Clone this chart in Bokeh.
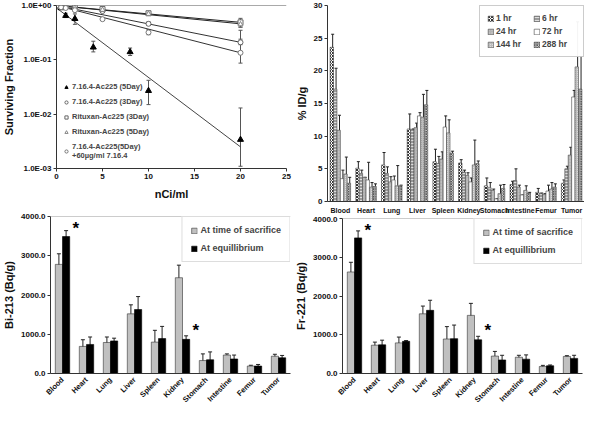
from math import pi
from bokeh.plotting import figure
from bokeh.layouts import column, row
from bokeh.models import (ColumnDataSource, FactorRange, Whisker, TeeHead, Legend, LegendItem,
                          FixedTicker, CustomJSTickFormatter, NumeralTickFormatter, Span)
from bokeh.transform import dodge
from bokeh.core.properties import value
from bokeh.embed import file_html
from bokeh.resources import INLINE

FONT = "Liberation Sans"

# ---------------- Panel A: survival ----------------
tri_x = [0, 0.5, 1, 2, 4, 8, 10, 20]
tri_y = [1.0, 0.9, 0.65, 0.57, 0.17, 0.14, 0.027, 0.0034]
tri_lo = [1.0, 0.85, 0.6, 0.45, 0.14, 0.12, 0.015, 0.0011]
tri_hi = [1.0, 0.95, 0.72, 0.70, 0.22, 0.165, 0.042, 0.013]

dose = [0, 0.5, 1, 2, 5, 10, 20]
rit3_y = [1.0, 0.98, 0.97, 0.93, 0.86, 0.72, 0.49]
rit3_lo = [1.0, 0.95, 0.94, 0.88, 0.80, 0.67, 0.40]
rit3_hi = [1.0, 1.0, 1.0, 0.98, 0.93, 0.78, 0.58]
rit5_y = [1.0, 0.97, 0.95, 0.91, 0.83, 0.70, 0.45]
rit5_lo = [1.0, 0.94, 0.92, 0.87, 0.79, 0.66, 0.40]
rit5_hi = [1.0, 1.0, 0.98, 0.95, 0.88, 0.74, 0.52]
c3_y = [1.0, 0.95, 0.93, 0.88, 0.79, 0.46, 0.21]
c3_lo = [1.0, 0.92, 0.9, 0.84, 0.75, 0.43, 0.19]
c3_hi = [1.0, 0.98, 0.96, 0.92, 0.83, 0.50, 0.24]
blk_y = [1.0, 0.93, 0.90, 0.82, 0.56, 0.32, 0.135]
blk_lo = [1.0, 0.90, 0.86, 0.78, 0.53, 0.29, 0.087]
blk_hi = [1.0, 0.96, 0.94, 0.86, 0.60, 0.36, 0.35]

fit_x = [0, 20]
tri_fit = [0.9, 0.0025]
rit3_fit = [1.0, 0.49]
rit5_fit = [1.0, 0.46]
c3_fit = [1.0, 0.21]
blk_fit = [1.0, 0.135]

ytick_vals = [0.001, 0.01, 0.1, 1.0]
xtick_vals = [0, 5, 10, 15, 20, 25]

# ---------------- Panel B: %ID/g ----------------
organs = ["Blood", "Heart", "Lung", "Liver", "Spleen", "Kidney", "Stomach", "Intestine", "Femur", "Tumor"]
times = ["1 hr", "6 hr", "24 hr", "72 hr", "144 hr", "288 hr"]
id_1h = [23.6, 5.1, 5.6, 11.1, 6.1, 5.9, 2.4, 2.6, 1.4, 2.8]
id_1h_hi = [25.6, 6.1, 7.5, 13.4, 8.0, 6.4, 3.6, 3.1, 2.0, 3.3]
id_6h = [17.2, 4.3, 4.3, 11.0, 5.8, 4.5, 2.1, 3.2, 1.2, 5.0]
id_6h_hi = [20.4, 4.8, 5.3, 11.1, 6.9, 4.8, 2.9, 5.0, 1.3, 5.4]
id_24h = [10.9, 3.7, 3.0, 11.3, 6.5, 4.0, 1.7, 2.2, 1.1, 7.1]
id_24h_hi = [13.2, 3.7, 3.8, 12.0, 7.6, 4.4, 1.9, 2.5, 1.2, 8.3]
id_72h = [3.5, 3.3, 3.3, 13.1, 11.4, 3.0, 0.4, 1.0, 1.6, 16.0]
id_72h_hi = [4.8, 6.0, 3.9, 13.6, 13.1, 3.6, 0.4, 1.0, 2.5, 17.0]
id_144h = [4.2, 2.2, 2.4, 12.9, 10.5, 5.6, 1.2, 1.7, 1.9, 20.6]
id_144h_hi = [6.8, 2.9, 5.5, 16.4, 12.5, 9.4, 2.5, 2.4, 2.9, 27.5]
id_288h = [2.8, 2.3, 2.4, 14.8, 7.4, 5.8, 2.0, 1.3, 2.2, 17.2]
id_288h_hi = [3.7, 2.7, 2.5, 17.0, 7.7, 6.2, 2.6, 1.4, 2.7, 22.2]

# ---------------- Panels C/D: Bi-213 / Fr-221 ----------------
bi_sac = [2780, 690, 790, 1520, 800, 2440, 330, 470, 190, 440]
bi_sac_lo = [2500, 520, 650, 1290, 500, 2120, 160, 440, 170, 390]
bi_sac_hi = [3050, 860, 930, 1750, 1100, 2760, 500, 500, 210, 490]
bi_eq = [3490, 740, 830, 1630, 890, 870, 350, 370, 190, 400]
bi_eq_lo = [3340, 550, 760, 1300, 580, 780, 150, 270, 150, 340]
bi_eq_hi = [3640, 930, 900, 1960, 1200, 960, 550, 470, 230, 460]
bi_star_organ = ["Blood", "Kidney"]
bi_star_y = [3700, 1100]

fr_sac = [2620, 730, 790, 1540, 890, 1500, 450, 420, 180, 440]
fr_sac_lo = [2370, 650, 640, 1340, 580, 1190, 330, 370, 150, 420]
fr_sac_hi = [2870, 810, 940, 1740, 1210, 1810, 570, 470, 210, 460]
fr_eq = [3500, 740, 830, 1630, 900, 870, 350, 370, 200, 390]
fr_eq_lo = [3320, 620, 810, 1370, 550, 780, 230, 260, 180, 310]
fr_eq_hi = [3680, 860, 850, 1890, 1250, 960, 470, 480, 220, 470]
fr_star_organ = ["Blood", "Kidney"]
fr_star_y = [3700, 1100]

bq_ticks = [0, 1000, 2000, 3000, 4000]
pct_ticks = [0, 5, 10, 15, 20, 25, 30]


def style(p, tick_size="8px", label_size="11px"):
    p.outline_line_color = None
    p.grid.grid_line_color = None
    p.background_fill_color = "white"
    for ax in p.axis:
        ax.major_label_text_font = FONT
        ax.major_label_text_font_style = "bold"
        ax.major_label_text_font_size = tick_size
        ax.major_label_text_color = "#111"
        ax.axis_label_text_font = FONT
        ax.axis_label_text_font_style = "bold"
        ax.axis_label_text_font_size = label_size
        ax.axis_label_text_color = "#111"
        ax.minor_tick_line_color = None
        ax.major_tick_in = 0
        ax.major_tick_out = 3
        ax.axis_line_color = "#333"
        ax.major_tick_line_color = "#333"
        ax.axis_label_standoff = 3
        ax.major_label_standoff = 2


# ---------- Panel A ----------
pA = figure(width=292, height=203, y_axis_type="log", x_range=(0, 25), y_range=(0.001, 1.0),
            output_backend="svg", toolbar_location=None, min_border_top=5, min_border_right=6,
            min_border_left=10, min_border_bottom=35, frame_align=False)
style(pA)
pA.xaxis.axis_label = "nCi/ml"
pA.yaxis.axis_label = "Surviving Fraction"
pA.xaxis.axis_label_standoff = 6
pA.xaxis.ticker = FixedTicker(ticks=xtick_vals)
pA.yaxis.ticker = FixedTicker(ticks=ytick_vals)
pA.yaxis.formatter = CustomJSTickFormatter(code="""
const e = Math.round(Math.log10(tick));
const s = e < 0 ? '-' : '+';
const a = Math.abs(e);
return '1.0E' + s + (a < 10 ? '0' : '') + a;
""")
pA.add_layout(Span(location=1.0, dimension="width", line_color="#555", line_width=1))

for fy, col in [(tri_fit, "#444"), (rit3_fit, "#222"), (rit5_fit, "#222"), (c3_fit, "#333"), (blk_fit, "#333")]:
    pA.line(fit_x, fy, line_color=col, line_width=1)

series = [
    ("7.16.4-Ac225 (5Day)", tri_x, tri_y, tri_lo, tri_hi, "triangle", "black", "black", 6),
    ("7.16.4-Ac225 (3Day)", dose, c3_y, c3_lo, c3_hi, "circle", "white", "#666", 5),
    ("Rituxan-Ac225 (3Day)", dose, rit3_y, rit3_lo, rit3_hi, "square", "white", "#666", 5),
    ("Rituxan-Ac225 (5Day)", dose, rit5_y, rit5_lo, rit5_hi, "triangle", "white", "#888", 5),
    ("7.16.4-Ac225(5Day)\n+60µg/ml 7.16.4", dose, blk_y, blk_lo, blk_hi, "circle", "white", "#777", 5),
]
itemsA = []
for name, xs, ys, lo, hi, mk, fc, lc, sz in series:
    src = ColumnDataSource(dict(x=xs, y=ys, lo=lo, hi=hi))
    pA.add_layout(Whisker(base="x", lower="lo", upper="hi", source=src, dimension="height",
                          line_color="#555", line_width=1,
                          lower_head=TeeHead(size=4, line_color="#555"),
                          upper_head=TeeHead(size=4, line_color="#555")))
    r = pA.scatter("x", "y", source=src, marker=mk, size=sz, fill_color=fc, line_color=lc, line_width=1)
    itemsA.append(LegendItem(label=name, renderers=[r]))

legA = Legend(items=itemsA, location=(6, 8), label_text_font=FONT, label_text_font_style="bold",
              label_text_font_size="7.5px", label_height=9, glyph_height=8, glyph_width=8,
              spacing=6, padding=0, label_standoff=2, border_line_color=None,
              background_fill_alpha=0)
pA.add_layout(legA)

# ---------- Panel B ----------
pB = figure(width=292, height=216, x_range=FactorRange(factors=organs), y_range=(0, 30),
            output_backend="svg", toolbar_location=None, min_border_top=5, min_border_right=0,
            min_border_left=28, min_border_bottom=12, frame_align=False)
style(pB, tick_size="8px")
pB.yaxis.axis_label = "% ID/g"
pB.yaxis.ticker = FixedTicker(ticks=pct_ticks)
pB.xaxis.major_tick_line_color = None
pB.xaxis.major_label_text_font_size = "7px"
pB.xaxis.axis_label_standoff = 0
pB.x_range.range_padding = 0

srcB = ColumnDataSource(dict(organ=organs,
                             v0=id_1h, h0=id_1h_hi, v1=id_6h, h1=id_6h_hi, v2=id_24h, h2=id_24h_hi,
                             v3=id_72h, h3=id_72h_hi, v4=id_144h, h4=id_144h_hi, v5=id_288h, h5=id_288h_hi))
bw = 0.133
offsets = [-2.5 * bw, -1.5 * bw, -0.5 * bw, 0.5 * bw, 1.5 * bw, 2.5 * bw]
styles = [
    dict(fill_color="white", hatch_pattern="diagonal_cross", hatch_color="#333", hatch_scale=3, hatch_weight=1),
    dict(fill_color="#9a9a9a", hatch_pattern="horizontal_line", hatch_color="#dddddd", hatch_scale=3, hatch_weight=1),
    dict(fill_color="#b4b4b4", hatch_pattern="dot", hatch_color="#d0d0d0", hatch_scale=3, hatch_weight=1),
    dict(fill_color="white"),
    dict(fill_color="#bdbdbd", hatch_pattern="dot", hatch_color="#e6e6e6", hatch_scale=2, hatch_weight=1),
    dict(fill_color="white", hatch_pattern="diagonal_cross", hatch_color="#555", hatch_scale=2.5, hatch_weight=1),
]
rB = []
for i in range(6):
    r = pB.vbar(x=dodge("organ", offsets[i], range=pB.x_range), top="v%d" % i, width=bw, source=srcB,
                line_color="#444", line_width=0.6, **styles[i])
    pB.add_layout(Whisker(base=dodge("organ", offsets[i] + bw * 0.25, range=pB.x_range), lower="v%d" % i,
                          upper="h%d" % i, source=srcB, dimension="height", line_color="#222",
                          line_width=1, lower_head=None,
                          upper_head=TeeHead(size=3, line_color="#222")))
    rB.append(r)

# legend filled column by column: left column 1/24/144 hr, right column 6/72/288 hr
leg_order = [0, 2, 4, 1, 3, 5]
itemsB = [LegendItem(label=times[i], renderers=[rB[i]]) for i in leg_order]
legB = Legend(items=itemsB, location="top_right", ncols=2, label_text_font=FONT,
              label_text_font_style="bold", label_text_font_size="8.5px", label_height=10,
              label_width=34, glyph_height=7, glyph_width=7, spacing=3, padding=7, margin=0,
              label_standoff=2, border_line_color="#999", border_line_width=1,
              background_fill_color="white")
pB.add_layout(legB)


# ---------- Panels C/D ----------
def bq_panel(ylabel, sac, sac_lo, sac_hi, eq, eq_lo, eq_hi, star_org, star_y, left, h, top):
    p = figure(width=292, height=h, x_range=FactorRange(factors=organs), y_range=(0, 4000),
               output_backend="svg", toolbar_location=None, min_border_top=top, min_border_right=2,
               min_border_left=left, min_border_bottom=30, frame_align=False)
    style(p)
    p.x_range.range_padding = 0
    p.yaxis.axis_label = ylabel
    p.yaxis.ticker = FixedTicker(ticks=bq_ticks)
    p.yaxis.formatter = NumeralTickFormatter(format="0.0")
    p.xaxis.major_label_orientation = pi / 4
    p.xaxis.major_tick_line_color = None
    p.xaxis.major_label_text_font_size = "7.5px"
    p.xaxis.axis_label_standoff = 0
    p.add_layout(Span(location=4000, dimension="width", line_color="#999", line_width=1))
    src = ColumnDataSource(dict(organ=organs, a=sac, alo=sac_lo, ahi=sac_hi, b=eq, blo=eq_lo, bhi=eq_hi))
    w = 0.3
    ra = p.vbar(x=dodge("organ", -w / 2, range=p.x_range), top="a", width=w, source=src,
                fill_color="#c0c0c0", line_color="#333", line_width=0.6)
    rb = p.vbar(x=dodge("organ", w / 2, range=p.x_range), top="b", width=w, source=src,
                fill_color="black", line_color="black", line_width=0.6)
    for off, lo, hi in [(-w / 2, "alo", "ahi"), (w / 2, "blo", "bhi")]:
        p.add_layout(Whisker(base=dodge("organ", off, range=p.x_range), lower=lo, upper=hi, source=src,
                             dimension="height", line_color="#222", line_width=1,
                             lower_head=TeeHead(size=4, line_color="#222"),
                             upper_head=TeeHead(size=4, line_color="#222")))
    ssrc = ColumnDataSource(dict(organ=star_org, y=star_y, t=["*"] * len(star_org)))
    p.text(x=dodge("organ", 0.55, range=p.x_range), y="y", text="t", source=ssrc,
           text_font=value(FONT), text_font_style="bold", text_font_size="17px",
           text_align="center", text_baseline="middle", text_color="black")
    leg = Legend(items=[LegendItem(label="At time of sacrifice", renderers=[ra]),
                        LegendItem(label="At equillibrium", renderers=[rb])],
                 location="top_right", label_text_font=FONT, label_text_font_style="bold",
                 label_text_font_size="9px", label_height=10, glyph_height=7, glyph_width=7,
                 spacing=8, padding=8, margin=0, label_standoff=3,
                 border_line_color="#bbb", background_fill_color="white")
    p.add_layout(leg)
    return p


pC = bq_panel("Bi-213 (Bq/g)", bi_sac, bi_sac_lo, bi_sac_hi, bi_eq, bi_eq_lo, bi_eq_hi,
              bi_star_organ, bi_star_y, 10, 207, 13)
pD = bq_panel("Fr-221 (Bq/g)", fr_sac, fr_sac_lo, fr_sac_hi, fr_eq, fr_eq_lo, fr_eq_hi,
              fr_star_organ, fr_star_y, 42, 194, 2)

layout = row(column(pA, pC), column(pB, pD))
open("out.html", "w").write(file_html(layout, INLINE))
